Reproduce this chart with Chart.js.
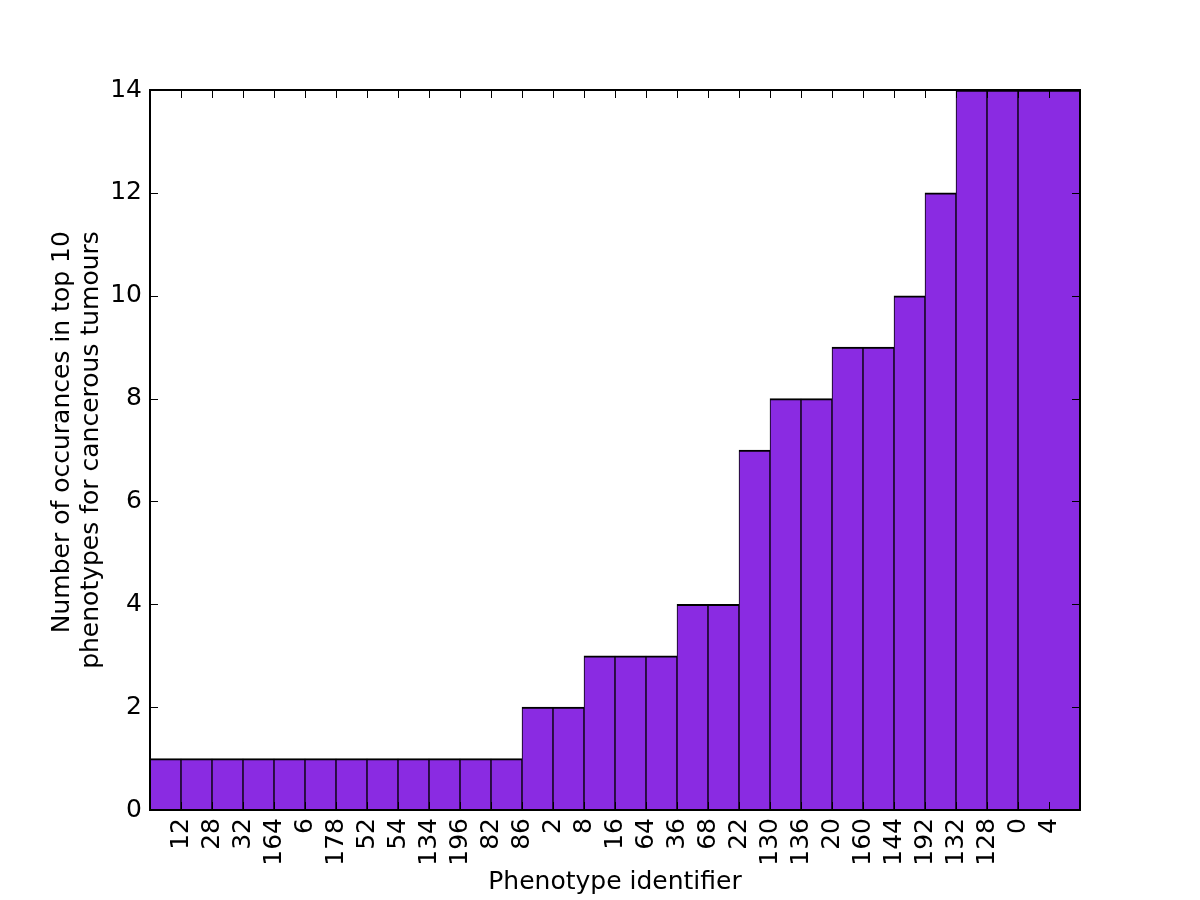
<!DOCTYPE html>
<html>
<head>
<meta charset="utf-8">
<script src="https://cdn.jsdelivr.net/npm/chart.js@4/dist/chart.umd.min.js"></script>
<style>
  body { margin: 0; background: #fff; }
  canvas { display: block; }
</style>
</head>
<body>
<canvas id="chart" width="1200" height="900"></canvas>
<script>
// phenotype ids shown under the bar edges (ticks at 1..29)
const phenotypeLabels = ["12", "28", "32", "164", "6", "178", "52", "54", "134", "196", "82", "86",
    "2", "8", "16", "64", "36", "68", "22", "130", "136", "20", "160", "144", "192", "132", "128", "0", "4"];
// occurrence counts per bin
const counts = [1, 1, 1, 1, 1, 1, 1, 1, 1, 1, 1, 1, 2, 2, 3, 3, 3, 4, 4, 7, 8, 8, 9, 9, 10, 12, 14, 14, 14];
// bin edges (last bin is two units wide)
const binEdges = [0, 1, 2, 3, 4, 5, 6, 7, 8, 9, 10, 11, 12, 13, 14, 15, 16, 17, 18, 19, 20,
    21, 22, 23, 24, 25, 26, 27, 28, 30];
const yTicks = [0, 2, 4, 6, 8, 10, 12, 14];
const yTitleLines = ["Number of occurances in top 10", "phenotypes for cancerous tumours"];

const FONT = "DejaVu Sans";
const FSIZE = 25;
const xMax = binEdges[binEdges.length - 1];

// one slot per unit on the x axis, each slot takes the value of its bin
const slotValues = [];
const slotLeftEdge = [];
const slotRightEdge = [];
for (let j = 0; j < xMax; j++) {
    let k = 0;
    while (!(binEdges[k] <= j && j < binEdges[k + 1])) k++;
    slotValues.push(counts[k]);
    slotLeftEdge.push(j === binEdges[k]);
    slotRightEdge.push(j + 1 === binEdges[k + 1]);
}

// matplotlib style frame + inward ticks
const frameTicks = {
    id: "frameTicks",
    afterDatasetsDraw(chart) {
        const { ctx, chartArea: a, scales } = chart;
        const len = 8;
        ctx.save();
        ctx.strokeStyle = "#000";
        ctx.lineWidth = 1;
        ctx.beginPath();
        yTicks.forEach(v => {
            const y = Math.round(scales.y.getPixelForValue(v)) + 0.5;
            ctx.moveTo(a.left, y); ctx.lineTo(a.left + len, y);
            ctx.moveTo(a.right, y); ctx.lineTo(a.right - len, y);
        });
        phenotypeLabels.forEach((_, i) => {
            const x = Math.round(scales.x2.getPixelForValue(i + 1)) + 0.5;
            ctx.moveTo(x, a.bottom); ctx.lineTo(x, a.bottom - len);
            ctx.moveTo(x, a.top); ctx.lineTo(x, a.top + len);
        });
        ctx.stroke();
        ctx.lineWidth = 2;
        ctx.strokeRect(a.left, a.top, a.right - a.left, a.bottom - a.top);
        ctx.restore();
    }
};

// two line y label, lines end-aligned like matplotlib does it
const yTitle = {
    id: "yTitle",
    afterDraw(chart) {
        const { ctx, chartArea: a } = chart;
        ctx.save();
        ctx.font = FSIZE + "px '" + FONT + "'";
        ctx.fillStyle = "#000";
        const maxW = Math.max(...yTitleLines.map(t => ctx.measureText(t).width));
        ctx.translate(62, (a.top + a.bottom) / 2);
        ctx.rotate(-Math.PI / 2);
        ctx.textAlign = "right";
        ctx.textBaseline = "middle";
        yTitleLines.forEach((t, i) => ctx.fillText(t, maxW / 2, i * 29));
        ctx.restore();
    }
};

new Chart(document.getElementById("chart"), {
    type: "bar",
    data: {
        labels: slotValues.map((_, j) => String(j)),
        datasets: [{
            data: slotValues,
            backgroundColor: "#8A2BE2",
            borderColor: "#000",
            borderSkipped: false,
            borderWidth: (c) => ({
                top: 2,
                bottom: 0,
                left: slotLeftEdge[c.dataIndex] ? 1 : 0,
                right: slotRightEdge[c.dataIndex] ? 1 : 0
            }),
            barPercentage: 1,
            categoryPercentage: 1
        }]
    },
    options: {
        responsive: false,
        animation: false,
        devicePixelRatio: 1,
        layout: { padding: { top: 90, right: 120, left: 0, bottom: 0 } },
        plugins: { legend: { display: false }, tooltip: { enabled: false } },
        scales: {
            x: { type: "category", display: false },
            x2: {
                type: "linear",
                position: "bottom",
                offset: false,
                min: 0,
                max: xMax,
                afterFit: (s) => { s.height = 90; },
                grid: { display: false, drawTicks: false, offset: false },
                border: { display: false },
                ticks: {
                    stepSize: 1,
                    autoSkip: false,
                    minRotation: 90,
                    maxRotation: 90,
                    padding: 8,
                    color: "#000",
                    font: { family: FONT, size: FSIZE },
                    callback: (v) => (v >= 1 && v <= phenotypeLabels.length) ? phenotypeLabels[v - 1] : ""
                },
                title: {
                    display: true,
                    text: "Phenotype identifier",
                    color: "#000",
                    font: { family: FONT, size: FSIZE },
                    padding: { top: 0, bottom: 3 }
                }
            },
            y: {
                min: 0,
                max: 14,
                afterFit: (s) => { s.width = 150; },
                grid: { display: false, drawTicks: false },
                border: { display: false },
                ticks: {
                    stepSize: 2,
                    padding: 8,
                    color: "#000",
                    font: { family: FONT, size: FSIZE }
                }
            }
        }
    },
    plugins: [frameTicks, yTitle]
});
</script>
</body>
</html>
